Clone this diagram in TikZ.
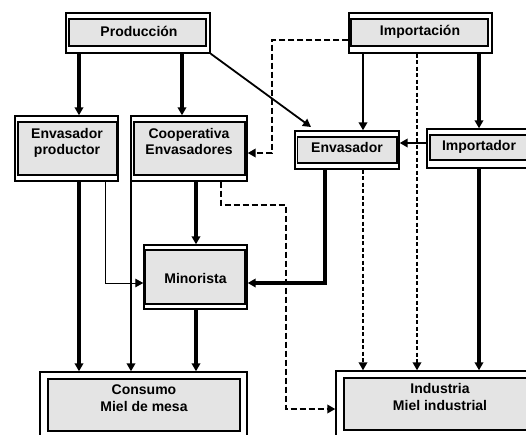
\documentclass[tikz,border=0pt]{standalone}
\usepackage{fontspec}
\setmainfont{Liberation Sans}
\usetikzlibrary{arrows.meta,fit}
\definecolor{boxgray}{RGB}{228,228,228}
\tikzset{
  outerbox/.style={draw=black,line width=1.4pt,fill=white,inner sep=0pt},
  innerbox/.style={draw=black,line width=1.8pt,fill=boxgray,inner sep=0pt},
  lbl/.style={anchor=base,inner sep=0pt,font=\fontsize{14}{16}\selectfont\bfseries},
  tip/.style={-{Triangle[length=8pt,width=8.5pt]}},
  heavy/.style={tip,line width=3.5pt},
  medium/.style={tip,line width=2.6pt},
  light/.style={tip,line width=1pt},
  diag/.style={tip,line width=1.8pt},
  longdash/.style={tip,line width=1.8pt,dash pattern=on 6pt off 3pt},
  shortdash/.style={tip,line width=1.8pt,dash pattern=on 4pt off 2.5pt},
}
\begin{document}
\begin{tikzpicture}[x=1pt,y=-1pt]
\clip (0,0) rectangle (526,434);
\fill[white] (0,0) rectangle (526,434);
% boxes
\node[outerbox,fit={(66,13)(210,53)}] (prod) {};
\node[innerbox,fit={(69,19)(206,46)}] (prodin) {};
\node[lbl] (prodt) at (139,36) {Producción};

\node[outerbox,fit={(349,13)(492,53)}] (impc) {};
\node[innerbox,fit={(351,19)(488,46)}] (impcin) {};
\node[lbl] (impct) at (420,35) {Importación};

\node[outerbox,fit={(15,116)(118,181)}] (envp) {};
\node[innerbox,fit={(18,122)(116.5,175)}] (envpin) {};
\node[lbl] (envpt1) at (67,138) {Envasador};
\node[lbl] (envpt2) at (67,154) {productor};

\node[outerbox,fit={(131,116)(247,181)}] (coop) {};
\node[innerbox,fit={(134,122)(245,175)}] (coopin) {};
\node[lbl] (coopt1) at (189,138) {Cooperativa};
\node[lbl] (coopt2) at (189,154) {Envasadores};

\node[outerbox,fit={(295,131)(399,169)}] (env) {};
\node[innerbox,fit={(297.5,137)(397,163)}] (envin) {};
\node[lbl] (envt) at (347,152) {Envasador};

\node[outerbox,fit={(427,129)(534,168)}] (imptr) {};
\node[innerbox,fit={(430,135)(530,160)}] (imptrin) {};
\node[lbl] (imptrt) at (479,150) {Importador};

\node[outerbox,fit={(144,245)(247,309)}] (mino) {};
\node[innerbox,fit={(145.5,250)(245,304)}] (minoin) {};
\node[lbl] (minot) at (195.5,283) {Minorista};

\node[outerbox,fit={(40,372)(247,445)}] (cons) {};
\node[innerbox,fit={(48,379)(240,431)}] (consin) {};
\node[lbl] (const1) at (144,394) {Consumo};
\node[lbl] (const2) at (144,411) {Miel de mesa};

\node[outerbox,fit={(336,371)(540,445)}] (ind) {};
\node[innerbox,fit={(344,378)(536,430)}] (indin) {};
\node[lbl] (indt1) at (440,393) {Industria};
\node[lbl] (indt2) at (440,410) {Miel industrial};

% connectors
\draw[heavy] (79,0 |- prod.south) -- (79,0 |- envp.north);
\draw[heavy] (182,0 |- prod.south) -- (182,0 |- coop.north);
\coordinate (diagend) at (311,127);
\draw[diag] (prod.south east) -- (diagend);
\draw[medium] (363,0 |- impc.south) -- (363,0 |- env.north);
\draw[heavy] (479,0 |- impc.south) -- (479,0 |- imptr.north);
\draw[longdash] (impc.west |- 0,40) -- (272,40) -- (272,153) -- (coop.east |- 0,153);
\draw[shortdash] (417,0 |- impc.south) -- (417,0 |- ind.north);
\draw[medium] (imptr.west |- 0,143) -- (env.east |- 0,143);
\draw[heavy] (325,0 |- env.south) -- (325,283) -- (mino.east |- 0,283);
\draw[shortdash] (363,0 |- env.south) -- (363,0 |- ind.north);
\draw[heavy] (479,0 |- imptr.south) -- (479,0 |- ind.north);
\draw[longdash] (221,0 |- coop.south) -- (221,205) -- (286,205) -- (286,409) -- (ind.west |- 0,409);
\draw[heavy] (196,0 |- coop.south) -- (196,0 |- mino.north);
\draw[medium] (131,0 |- coop.south) -- (131,0 |- cons.north);
\draw[heavy] (79,0 |- envp.south) -- (79,0 |- cons.north);
\draw[light] (105,0 |- envp.south) -- (105,283) -- (mino.west |- 0,283);
\draw[heavy] (196,0 |- mino.south) -- (196,0 |- cons.north);
\end{tikzpicture}
\end{document}
